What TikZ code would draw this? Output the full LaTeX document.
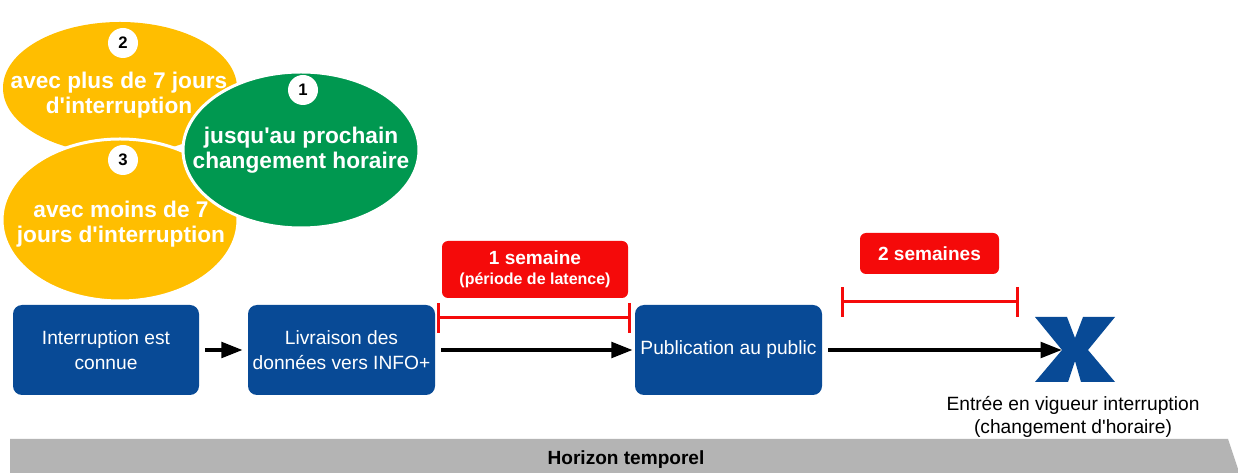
\documentclass[tikz,border=0pt]{standalone}
\usepackage{fontspec}
\setmainfont{Liberation Sans}
\usetikzlibrary{arrows.meta,shapes.geometric}
\definecolor{cblue}{RGB}{8,74,150}
\definecolor{cyellow}{RGB}{255,190,0}
\definecolor{cgreen}{RGB}{0,152,80}
\definecolor{cred}{RGB}{245,10,10}
\definecolor{cgray}{RGB}{180,180,180}
\newcommand{\ap}{\textquotesingle}
\tikzset{
  bluebox/.style={draw=none, fill=cblue, rounded corners=6.75pt, text=white,
    minimum height=67.5pt, align=center, inner sep=0pt,
    font=\fontsize{14.4}{18.5}\selectfont},
  bubble/.style={ellipse, draw=white, line width=2.25pt, inner sep=0pt, outer sep=0pt},
  bubbletext/.style={text=white, align=center, inner sep=0pt,
    font=\bfseries\fontsize{17}{19}\selectfont},
  numdot/.style={circle, fill=white, minimum size=22.5pt, inner sep=0pt,
    font=\bfseries\fontsize{12.5}{14}\selectfont},
  redbox/.style={fill=cred, rounded corners=4.5pt, text=white, align=center, inner sep=0pt,
    font=\bfseries},
  flow/.style={line width=3pt, -{Triangle[length=16pt,width=11.5pt]}},
  span/.style={draw=cred, line width=2.25pt, {Bar[width=22.5pt]}-{Bar[width=22.5pt]}},
}
\begin{document}
\begin{tikzpicture}[x=0.75pt,y=-0.75pt]
\clip (0,0) rectangle (1238,473);
\fill[white] (0,0) rectangle (1238,473);

% bubbles
\node[bubble, draw=none, fill=cyellow, minimum width=175.5pt, minimum height=99pt] (e2) at (120,88) {};
\node[bubble, fill=cyellow, minimum width=177pt, minimum height=121.5pt] (e3) at (120,220) {};
\node[bubble, fill=cgreen, minimum width=177pt, minimum height=117pt] (e1) at (301,150) {};

\node[numdot] (n2) at (123,43) {2};
\node[bubbletext] (t2) at (119,95) {avec plus de 7 jours\\d\ap interruption};
\node[numdot] (n3) at (123,160) {3};
\node[bubbletext] (t3) at (121,224) {avec moins de 7\\jours d\ap interruption};
\node[numdot] (n1) at (303,90) {1};
\node[bubbletext] (t1) at (301,150) {jusqu\ap au prochain\\changement horaire};

% process boxes
\node[bluebox, minimum width=139.5pt] (b1) at (106,350) {Interruption est\\connue};
\node[bluebox, minimum width=140.25pt] (b2) at (341.5,350) {Livraison des\\données vers INFO+};
\node[bluebox, minimum width=140.25pt] (b3) at (728.5,350) {Publication au public};

% X mark
\fill[cblue] (1035,317) -- (1067,317) -- (1075,338) -- (1083,317) -- (1115,317) -- (1088,350)
  -- (1115,382) -- (1081,382) -- (1075,361) -- (1068,382) -- (1035,382) -- (1062,350) -- cycle;
\coordinate (xtip) at (1062,350);
\node[align=center, inner sep=0pt, font=\fontsize{14.4}{17.3}\selectfont] (xlabel) at (1073,417)
  {Entrée en vigueur interruption\\(changement d\ap horaire)};

% arrows
\draw[flow, shorten <=4.5pt, shorten >=3.75pt] (b1) -- (b2);
\draw[flow, shorten <=4.5pt, shorten >=1.5pt] (b2) -- (b3);
\draw[flow, shorten <=4.5pt] (b3) -- (xtip);

% red labels and spans
\node[redbox, minimum width=139.5pt, minimum height=42.75pt] (r1) at (535,269.5)
  {{\fontsize{14.3}{16}\selectfont 1 semaine}\\[3pt]{\fontsize{12}{14}\selectfont (période de latence)}};
\node[redbox, minimum width=104.25pt, minimum height=30.75pt, font=\bfseries\fontsize{14.3}{16}\selectfont] (r2) at (929.5,253.5) {2 semaines};
\coordinate (s1a) at (437,318);
\coordinate (s1b) at (631,318);
\coordinate (s2a) at (841,302);
\coordinate (s2b) at (1019,302);
\draw[span] (s1a) -- (s1b);
\draw[span] (s2a) -- (s2b);

% time axis
\fill[cgray] (10,439) -- (1228,439) -- (1243,484) -- (10,484) -- cycle;
\node[inner sep=0pt, font=\bfseries\fontsize{14.3}{16}\selectfont] (axis) at (626,460) {Horizon temporel};
\end{tikzpicture}
\end{document}
